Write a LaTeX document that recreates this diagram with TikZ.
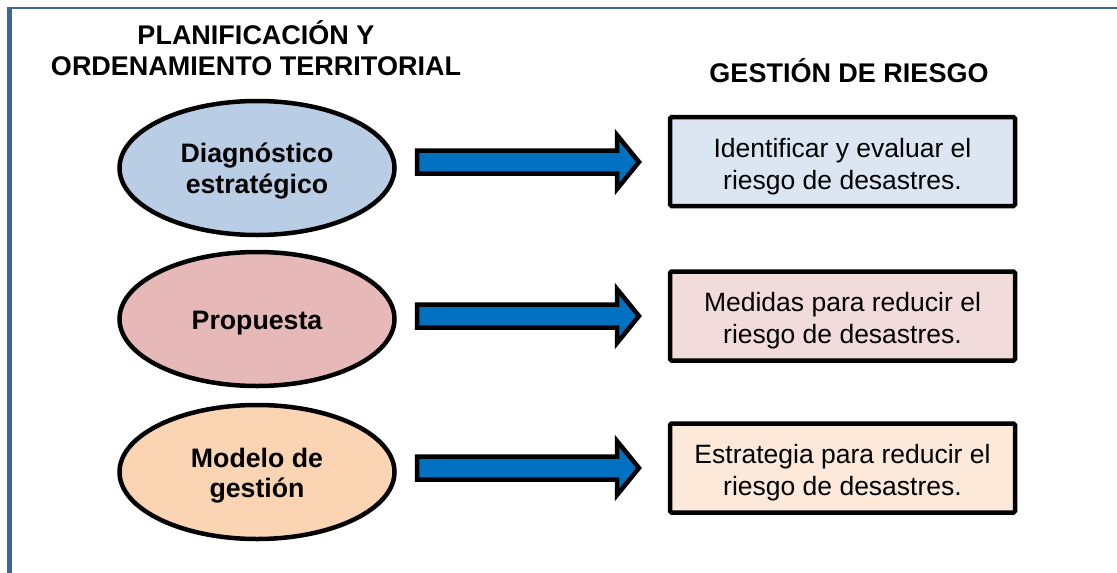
\documentclass[tikz,border=0pt]{standalone}
\usepackage{fontspec}
\setmainfont{Liberation Sans}
\usetikzlibrary{shapes.geometric,calc}
\definecolor{framec}{RGB}{65,100,150}
\definecolor{ellA}{RGB}{185,205,229}
\definecolor{ellB}{RGB}{230,185,184}
\definecolor{ellC}{RGB}{251,212,180}
\definecolor{boxA}{RGB}{220,230,242}
\definecolor{boxB}{RGB}{242,220,219}
\definecolor{boxC}{RGB}{253,233,217}
\definecolor{arrc}{RGB}{0,112,192}
\tikzset{
  titletext/.style={font=\fontsize{27}{31.5}\selectfont\bfseries, align=center, inner sep=0pt},
  ellnode/.style={ellipse, draw=black, line width=4.5pt, minimum width=275pt, minimum height=134pt, inner sep=0pt},
  elltext/.style={font=\fontsize{26.7}{30.5}\selectfont\bfseries, align=center, inner sep=0pt},
  boxnode/.style={draw=black, line width=4.5pt, rounded corners=1.5pt, minimum width=345pt, minimum height=89pt, inner sep=0pt},
  boxtext/.style={font=\fontsize{26.5}{32}\selectfont, align=center, inner sep=0pt},
  blockarr/.style={draw=black, line width=4.5pt, fill=arrc, line join=miter}
}
\newcommand{\blockarrow}[2]{%
  \draw[blockarr] ($(#1)+(0,-11.5)$) -- ($(#2)+(-22,-11.5)$) -- ($(#2)+(-22,-27)$) -- (#2)
    -- ($(#2)+(-22,27)$) -- ($(#2)+(-22,11.5)$) -- ($(#1)+(0,11.5)$) -- cycle;}
\begin{document}
\begin{tikzpicture}[x=1pt,y=-1pt]
\useasboundingbox (0,0) rectangle (1117,573);
% frame
\draw[framec, line width=2pt] (7,8) -- (1117,8);
\draw[framec, line width=5pt] (9.5,7) -- (9.5,573);
% titles
\node[titletext] (t1) at (256,48) {PLANIFICACIÓN Y\\ORDENAMIENTO TERRITORIAL};
\node[titletext] (t2) at (849,71) {GESTIÓN DE RIESGO};
% ellipses
\node[ellnode, fill=ellA] (e1) at (257,168) {};
\node[ellnode, fill=ellB] (e2) at (257,319) {};
\node[ellnode, fill=ellC] (e3) at (257,472) {};
\node[elltext] (e1t) at ($(e1)+(0,3)$) {Diagnóstico\\estratégico};
\node[elltext] (e2t) at ($(e2)+(0,4)$) {Propuesta};
\node[elltext] (e3t) at ($(e3)+(0,3.5)$) {Modelo de\\gestión};
% boxes
\node[boxnode, fill=boxA] (b1) at (842.5,161.5) {};
\node[boxnode, fill=boxB] (b2) at (842.5,316) {};
\node[boxnode, fill=boxC] (b3) at (842.5,468) {};
\node[boxtext] (b1t) at ($(b1)+(0,5)$) {Identificar y evaluar el\\riesgo de desastres.};
\node[boxtext] (b2t) at ($(b2)+(0,5)$) {Medidas para reducir el\\riesgo de desastres.};
\node[boxtext] (b3t) at ($(b3)+(0,5)$) {Estrategia para reducir el\\riesgo de desastres.};
% arrows
\coordinate (a1s) at (417,162); \coordinate (a1t) at (639,162);
\coordinate (a2s) at (417,316); \coordinate (a2t) at (639,316);
\coordinate (a3s) at (417,468); \coordinate (a3t) at (639,468);
\blockarrow{a1s}{a1t}
\blockarrow{a2s}{a2t}
\blockarrow{a3s}{a3t}
\end{tikzpicture}
\end{document}
